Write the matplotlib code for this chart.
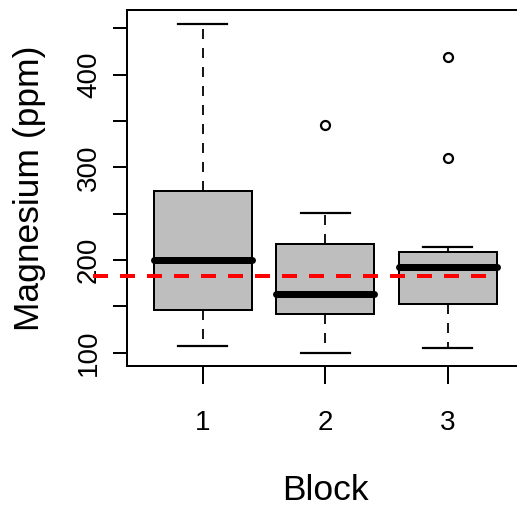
import matplotlib
matplotlib.use("Agg")
import matplotlib.pyplot as plt

plt.rcParams['font.family'] = ['Liberation Sans', 'DejaVu Sans']

# Magnesium (ppm) summary per block
blocks = ["1", "2", "3"]
whisker_low = [107, 100, 105]
q1 = [146, 142, 153]
median = [200, 163, 193]
q3 = [275, 217, 209]
whisker_high = [455, 251, 214]
outliers = [[], [346], [419, 310]]
overall_mean = 183

y_ticks = [100, 150, 200, 250, 300, 350, 400, 450]
y_tick_labels = ["100", "", "200", "", "300", "", "400", ""]

DPI = 100
fig = plt.figure(figsize=(5.17, 5.07), dpi=DPI)
ax = fig.add_axes([127 / 517, 141 / 507, 396.5 / 517, 356 / 507])

stats = []
for i in range(len(blocks)):
    stats.append(dict(label=blocks[i], whislo=whisker_low[i], q1=q1[i],
                      med=median[i], q3=q3[i], whishi=whisker_high[i],
                      fliers=outliers[i]))

px = 72 / DPI
ax.bxp(stats, positions=[1, 2, 3], widths=0.8, patch_artist=True,
       showfliers=True,
       boxprops=dict(facecolor="#BEBEBE", edgecolor="black", linewidth=2 * px),
       medianprops=dict(color="black", linewidth=7 * px, solid_capstyle="round"),
       whiskerprops=dict(color="black", linewidth=1.8 * px,
                         linestyle=(0, (10 / 1.8, 9 / 1.8))),
       capprops=dict(color="black", linewidth=2.2 * px),
       capwidths=0.4,
       flierprops=dict(marker="o", markerfacecolor="none", markeredgecolor="black",
                       markersize=9 * px, markeredgewidth=2.2 * px, linestyle="none"))

# reference line at the overall mean
ax.plot([0.1, 3.36], [overall_mean, overall_mean], color="#FF0000",
        linewidth=4 * px, linestyle=(0, (15 / 4, 12 / 4)), clip_on=False, zorder=5)

ax.set_xlim(0.38, 3.62)
ax.set_ylim(85.8, 469.6)

ax.set_xticks([1, 2, 3])
ax.set_xticklabels(blocks)
ax.set_yticks(y_ticks)
ax.set_yticklabels(y_tick_labels, rotation=90, va="center")

ax.tick_params(axis="y", length=14 * px, width=2 * px, labelsize=20, pad=8)
ax.tick_params(axis="x", length=18 * px, width=2 * px, labelsize=20, pad=19)

for side in ["left", "bottom", "top", "right"]:
    ax.spines[side].set_linewidth(2 * px)

ax.set_ylabel("Magnesium (ppm)", fontsize=25.5)
ax.yaxis.set_label_coords((30 - 127) / 396.5, 0.5)
ax.yaxis.label.set_va("center")
ax.set_xlabel("Block", fontsize=25.5)
ax.xaxis.set_label_coords(0.5, (366 - 490) / 356)
ax.xaxis.label.set_va("center")

fig.savefig("out.png", dpi=DPI)
